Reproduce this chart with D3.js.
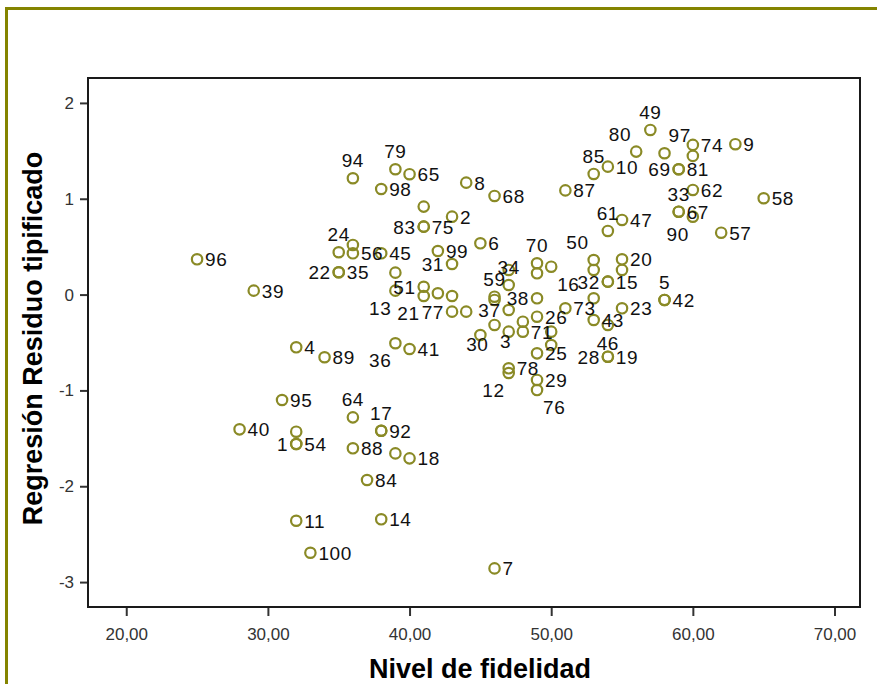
<!DOCTYPE html>
<html>
<head>
<meta charset="utf-8">
<script src="https://cdn.jsdelivr.net/npm/d3@7"></script>
<style>
  body { margin: 0; background: #fff; }
  text { font-family: "Liberation Sans", Arial, sans-serif; }
</style>
</head>
<body>
<script>
var width = 877;
var height = 684;

// case numbers ("" = label hidden by SPSS), x and y of every case
var caseLabels = ["96","39","4","89","24","","56","45","22","35","","83","75","","2","99","31","6","94","79",
  "65","98","8","68","87","49","80","97","74","","9","85","10","69","81","62","58","33","67","90",
  "47","61","57","50","70","16","","32","15","","","20","5","42","23","43","73","","46","28",
  "19","38","59","","34","","37","30","3","71","","25","","","26","78","12","29","76","13",
  "51","21","77","","","","41","36","95","40","64","17","92","1","54","","88","","18","84",
  "11","14","100","7",""];
var fidelidad = [25,29,32,34,35,36,36,38,35,35,39,41,41,41,43,42,43,45,36,39,
  40,38,44,46,51,57,56,58,60,60,63,53,54,59,59,60,65,59,59,60,
  55,54,62,53,49,50,49,54,54,53,55,55,58,58,55,53,51,53,54,54,
  54,49,46,46,47,47,47,45,47,48,48,49,50,50,49,47,47,49,49,39,
  41,41,43,42,43,44,40,39,31,28,36,38,38,32,32,32,36,39,40,37,
  32,38,33,46,46];
var residuo = [0.368,0.041,-0.550,-0.654,0.442,0.518,0.431,0.431,0.233,0.233,0.229,0.709,0.709,0.918,0.813,0.455,0.319,0.535,1.214,1.308,
  1.256,1.102,1.168,1.029,1.087,1.718,1.492,1.475,1.562,1.447,1.569,1.259,1.335,1.308,1.308,1.092,1.005,0.865,0.865,0.813,
  0.779,0.664,0.646,0.361,0.327,0.291,0.222,0.135,0.135,0.257,0.257,0.368,-0.056,-0.056,-0.143,-0.265,-0.143,-0.039,-0.317,-0.648,
  -0.648,-0.039,-0.022,-0.056,0.100,0.257,-0.161,-0.422,-0.387,-0.387,-0.283,-0.613,-0.387,-0.526,-0.231,-0.769,-0.818,-0.891,-0.996,0.041,
  0.082,-0.015,-0.178,0.014,-0.015,-0.178,-0.568,-0.508,-1.100,-1.406,-1.281,-1.421,-1.421,-1.559,-1.559,-1.431,-1.604,-1.657,-1.709,-1.935,
  -2.360,-2.345,-2.694,-2.857,-0.317];
// where SPSS put each label relative to its point
var labelSide = ["r","r","r","r","a","","r","r","l","r","","l","r","","r","r","l","r","a","a",
  "r","r","r","r","r","a","al","ar","r","","r","a","r","l","r","r","r","a","r","bl",
  "r","a","r","al","a","br","","l","r","","","r","a","r","r","r","r","","b","l",
  "r","l","a","","a","","l","o","o","r","","r","","","r","r","bl","r","br","bl",
  "l","bl","l","","","","r","bl","r","r","a","a","r","l","r","","r","","r","r",
  "r","r","r","r",""];

var xTicks = [20, 30, 40, 50, 60, 70];
var yTicks = [-3, -2, -1, 0, 1, 2];
var xTitle = "Nivel de fidelidad";
var yTitle = "Regresión Residuo tipificado";

var olive = "#848400";
var pointColor = "#8a8a26";

var plotL = 88, plotR = 860, plotT = 78, plotB = 607;

var svg = d3.select('body').append('svg')
  .attr('width', width)
  .attr('height', height);

// olive frame on top and left
svg.append('rect').attr('x', 5).attr('y', 7).attr('width', width - 5).attr('height', 3).attr('fill', olive);
svg.append('rect').attr('x', 5).attr('y', 7).attr('width', 3).attr('height', height - 7).attr('fill', olive);

var x = d3.scaleLinear().domain([17.3, 71.8]).range([plotL, plotR]);
var y = d3.scaleLinear().domain([-3.26, 2.26]).range([plotB, plotT]);

//axes
var xAxis = svg.append('g')
  .attr('transform', 'translate(0,' + plotB + ')')
  .call(d3.axisBottom(x).tickValues(xTicks).tickSize(9).tickPadding(12)
    .tickFormat(function(d){ return d.toFixed(2).replace('.', ','); }));
var yAxis = svg.append('g')
  .attr('transform', 'translate(' + plotL + ',0)')
  .call(d3.axisLeft(y).tickValues(yTicks).tickSize(8).tickPadding(6)
    .tickFormat(function(d){ return String(d); }));

[xAxis, yAxis].forEach(function(g){
  g.select('.domain').remove();
  g.selectAll('.tick line').attr('stroke', '#333').attr('stroke-width', 2);
  g.selectAll('.tick text').attr('fill', '#333').style('font-size', '17px')
    .style('font-family', '"Liberation Sans", Arial, sans-serif');
});

// plot box
svg.append('rect')
  .attr('x', plotL).attr('y', plotT)
  .attr('width', plotR - plotL).attr('height', plotB - plotT)
  .attr('fill', 'none').attr('stroke', '#1a1a1a').attr('stroke-width', 2);

// titles
svg.append('text')
  .attr('x', (plotL + plotR) / 2 + 6).attr('y', 678)
  .attr('text-anchor', 'middle')
  .style('font-size', '27px').style('font-weight', 'bold')
  .text(xTitle);
svg.append('text')
  .attr('transform', 'translate(42,' + ((plotT + plotB) / 2 - 4) + ') rotate(-90)')
  .attr('text-anchor', 'middle')
  .style('font-size', '27px').style('font-weight', 'bold')
  .text(yTitle);

var points = caseLabels.map(function(c, i){
  return { label: c, x: fidelidad[i], y: residuo[i], side: labelSide[i] };
});

svg.selectAll('circle.pt').data(points).enter().append('circle')
  .attr('class', 'pt')
  .attr('cx', function(d){ return x(d.x); })
  .attr('cy', function(d){ return y(d.y); })
  .attr('r', 5.2)
  .attr('fill', 'none')
  .attr('stroke', pointColor)
  .attr('stroke-width', 2.2);

var place = {
  r:  { anchor: 'start',  dx: 8,  dy: 7 },
  l:  { anchor: 'end',    dx: -8, dy: 7 },
  a:  { anchor: 'middle', dx: 0,  dy: -11 },
  b:  { anchor: 'middle', dx: 0,  dy: 25 },
  al: { anchor: 'end',    dx: -5, dy: -11 },
  ar: { anchor: 'start',  dx: 4,  dy: -11 },
  bl: { anchor: 'end',    dx: -4, dy: 24 },
  br: { anchor: 'start',  dx: 6,  dy: 24 },
  o:  { anchor: 'middle', dx: -3, dy: 16 }
};

svg.selectAll('text.lbl').data(points.filter(function(d){ return d.label !== ''; }))
  .enter().append('text')
  .attr('class', 'lbl')
  .attr('x', function(d){ return x(d.x) + place[d.side].dx; })
  .attr('y', function(d){ return y(d.y) + place[d.side].dy; })
  .attr('text-anchor', function(d){ return place[d.side].anchor; })
  .attr('fill', '#111')
  .style('font-size', '19px')
  .style('letter-spacing', '0.6px')
  .text(function(d){ return d.label; });
</script>
</body>
</html>
